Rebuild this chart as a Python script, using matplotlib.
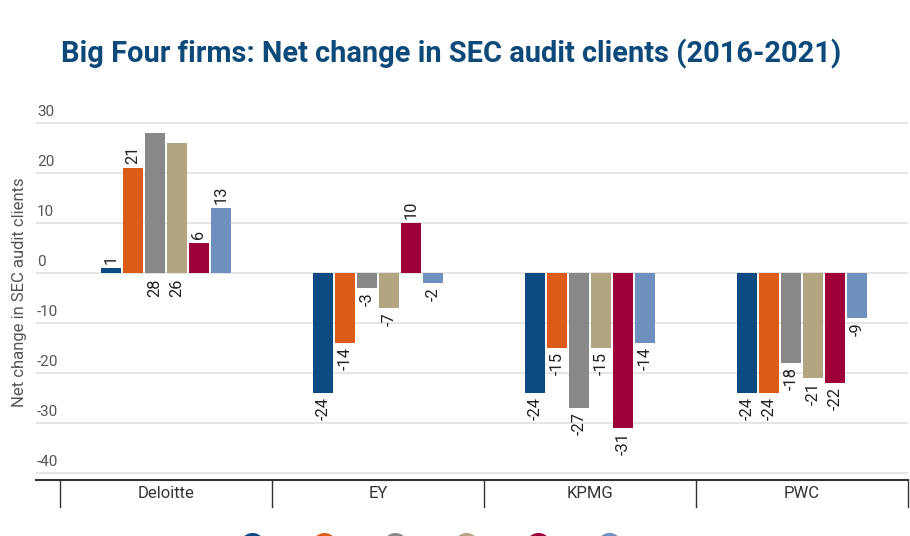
import matplotlib
matplotlib.use("Agg")
import matplotlib.pyplot as plt
import matplotlib.transforms as mtransforms
from matplotlib.lines import Line2D
import numpy as np

plt.rcParams['font.family'] = ['Roboto', 'DejaVu Sans']

firms = ["Deloitte", "EY", "KPMG", "PWC"]
series_labels = ["2016", "2017", "2018", "2019", "2020", "2021"]
values = {
    "2016": [1, -24, -24, -24],
    "2017": [21, -14, -15, -24],
    "2018": [28, -3, -27, -18],
    "2019": [26, -7, -15, -21],
    "2020": [6, 10, -31, -22],
    "2021": [13, -2, -14, -9],
}
colors = ["#0d4a82", "#dc5b16", "#888888", "#b3a482", "#9e0039", "#6f8fbf"]
yticks = [30, 20, 10, 0, -10, -20, -30, -40]

W, H = 910, 536
fig = plt.figure(figsize=(W / 100, H / 100), dpi=100)
ax_left, ax_right = 36, 908
ax_top, ax_bottom = 118, 480
ax = fig.add_axes([ax_left / W, 1 - ax_bottom / H, (ax_right - ax_left) / W, (ax_bottom - ax_top) / H])

ax.set_xlim(-0.613, 3.5)
ax.set_ylim(-41.4, 31)

x = np.arange(len(firms))
step = 22 / 212
width = 20 / 212
n = len(series_labels)
lab_fs = 11.8
for i, s in enumerate(series_labels):
    offs = (i - (n - 1) / 2) * step
    vals = values[s]
    ax.bar(x + offs, vals, width=width, color=colors[i], zorder=3)
    for xi, v in zip(x + offs, vals):
        if v >= 25:
            # no room above: label below the baseline
            ax.annotate(str(v), (xi, 0), xytext=(0, -4), textcoords="offset points",
                        rotation=90, ha="center", va="top", fontsize=lab_fs, color="#222222")
        elif v >= 0:
            ax.annotate(str(v), (xi, v), xytext=(0, 3), textcoords="offset points",
                        rotation=90, ha="center", va="bottom", fontsize=lab_fs, color="#222222")
        else:
            ax.annotate(str(v), (xi, v), xytext=(0, -3), textcoords="offset points",
                        rotation=90, ha="center", va="top", fontsize=lab_fs, color="#222222")

# gridlines and y tick labels
trans = mtransforms.offset_copy(ax.get_yaxis_transform(), fig=fig, x=0, y=3, units='points')
for yt in yticks:
    ax.axhline(yt, color="#e3e3e3", linewidth=1.3, zorder=1)
    ax.text(0.001, yt, str(yt), transform=trans, ha="left", va="bottom",
            fontsize=11, color="#555555")

ax.set_yticks([])
ax.set_xticks([])
for sp in ["top", "right", "left"]:
    ax.spines[sp].set_visible(False)
ax.spines["bottom"].set_color("#333333")
ax.spines["bottom"].set_linewidth(1.5)

# category separators and labels
axh = ax_bottom - ax_top
for b in np.arange(len(firms) + 1) - 0.5:
    ax.plot([b, b], [0, -27 / axh], transform=ax.get_xaxis_transform(), color="#333333",
            linewidth=1, clip_on=False)
for xi, f in zip(x, firms):
    ax.text(xi, -13 / axh, f, transform=ax.get_xaxis_transform(), ha="center", va="center",
            fontsize=12, color="#333333")

fig.text(20 / W, 1 - 292 / H, "Net change in SEC audit clients", rotation=90, ha="center",
         va="center", fontsize=12, color="#555555")

fig.text(451 / W, 1 - 54 / H, "Big Four firms: Net change in SEC audit clients (2016-2021)",
         ha="center", va="center", fontsize=20.9, fontweight="bold", color="#0d4a7a")

handles = [Line2D([0], [0], marker="o", linestyle="none", markersize=17,
                  markerfacecolor=c, markeredgecolor=c) for c in colors]
fig.legend(handles, series_labels, loc="center", bbox_to_anchor=(450 / W, -10 / H),
           ncol=6, frameon=False, fontsize=10.5, handlelength=1, handletextpad=0.4,
           columnspacing=1.25)

fig.savefig("out.png", dpi=100)
